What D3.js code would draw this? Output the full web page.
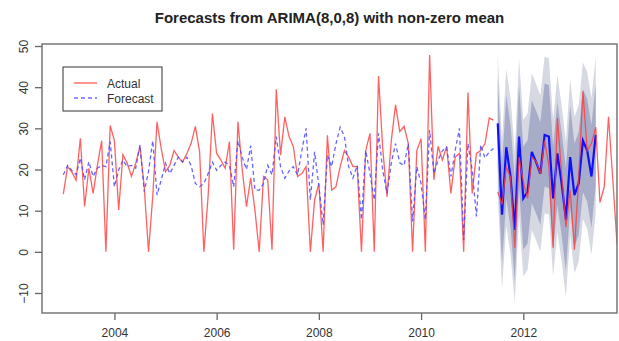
<!DOCTYPE html>
<html>
<head>
<meta charset="utf-8">
<title>Forecasts from ARIMA(8,0,8) with non-zero mean</title>
<script src="https://d3js.org/d3.v7.min.js"></script>
<style>
    body { margin: 0; background: #fff; }
    svg { display: block; font-family: "Liberation Sans", Arial, sans-serif; }
    .tick-label { font-size: 12px; fill: #333; }
    .title { font-size: 15px; font-weight: bold; fill: #222; }
</style>
</head>
<body>
<div id="chart"></div>
<script>
// monthly series, first value = Jan 2003
const startYear = 2003;

// observed values, Jan 2003 - Jun 2011
const actualTrain = [
    14, 20.7, 19.4, 17.4, 27.6, 11, 20.3, 14.2, 21, 27, 0, 30.7,
    27, 10.2, 23.6, 21.5, 18.3, 21.5, 25.6, 15.8, 0, 13.5, 31.6, 25,
    19.5, 21, 24.6, 23, 21.8, 23.9, 26.3, 30.5, 24.3, 0, 13.5, 33.6,
    23.9, 22.3, 20.3, 26.8, 0.5, 31.6, 20, 11, 18, 10, 0, 18.3,
    17.5, 0.5, 39.5, 23.5, 32.8, 28, 25.6, 18.3, 19, 20.7, 0, 12.6,
    16.6, 0, 28.3, 15, 15.8, 20.7, 24.6, 23, 20.7, 20.7, 0, 24.6,
    28.8, 0, 42.7, 25, 13.4, 27, 35.7, 29.2, 30.5, 26.3, 0, 24.6,
    27.5, 0, 47.8, 17.5, 25.6, 22.3, 25.6, 14.2, 23, 23.9, 0, 38.7,
    14.2, 23.9, 24.6, 26.3, 32.5, 32
];

// in-sample fitted values, same months
const fittedVals = [
    18.7, 21, 19.8, 18.7, 22.8, 17.5, 21.9, 18.3, 20.3, 21, 20.7, 26.8,
    15.8, 19.9, 22.3, 20.7, 21, 20.3, 26, 14.6, 19.5, 27, 13.8, 17.5,
    21.5, 19, 21, 23, 21.8, 23, 21, 16.6, 15.8, 16.6, 19, 21.8,
    19.8, 21, 21.8, 21, 15.8, 27, 23, 20, 25.8, 15, 15, 16.6,
    21, 18.7, 28, 20.7, 17.9, 19.6, 20.7, 18.7, 24.6, 30, 12.6, 24.3,
    16, 6.6, 23.5, 20.7, 26.2, 30.3, 28, 20.7, 17.9, 21, 7.8, 24.6,
    19, 12.6, 28.8, 19.8, 14.2, 21.5, 26.3, 21.6, 21, 26.3, 7.4, 20.7,
    16.6, 7.8, 29.6, 19, 22.3, 24.6, 25.4, 18.3, 24.6, 30, 2.9, 26.3,
    19.8, 8.6, 26, 22.8, 24.3, 25.1
];

// 24-month forecast, Jul 2011 - Jun 2013
const fcMean = [31.2, 9, 25.4, 18.3, 5.3, 28, 13, 14.6, 24.3, 21.8, 19, 28.4,
    28, 13, 23.9, 16.6, 7.8, 23, 13.8, 16.6, 27, 24.6, 18.3, 28.4];
const lo80 = [20.2, -3, 12.9, 5.8, -7.2, 15.5, 0.5, 2.1, 11.8, 9.3, 6.5, 15.9,
    15.5, 0.5, 11.4, 4.1, -4.7, 10.5, 1.3, 4.1, 14.5, 12.1, 5.8, 15.9];
const hi80 = [42.2, 21, 37.9, 30.8, 17.8, 40.5, 25.5, 27.1, 36.8, 34.3, 31.5, 40.9,
    40.5, 25.5, 36.4, 29.1, 20.3, 35.5, 26.3, 29.1, 39.5, 37.1, 30.8, 40.9];
const lo95 = [14.6, -9, 6.4, -0.7, -12.4, 9, -6, -4.4, 5.3, 2.8, 0, 9.4,
    9, -6, 4.9, -2.4, -11, 4, -5.2, -2.4, 8, 5.6, -0.7, 9.4];
const hi95 = [47.8, 27, 44.4, 37.3, 24.3, 47, 32, 33.6, 43.3, 40.8, 38, 47.4,
    47, 32, 42.9, 35.6, 26.8, 42, 32.8, 35.6, 46, 43.6, 37.3, 47.4];

// observed values after the training window, Jul 2011 onward
const actualTest = [14.6, 11.5, 20.7, 18, 1, 23, 17, 13, 23, 22, 19, 27,
    21, 1, 32.5, 19, 6, 15, 0.5, 18, 39, 24.6, 26.3, 30.3,
    12, 15.8, 32.8, 17.7, 2, 5];

const xTicks = [2004, 2006, 2008, 2010, 2012];
const yTicks = [-10, 0, 10, 20, 30, 40, 50];
const legendItems = [
    { label: "Actual", color: "#ff5a5a", dash: null },
    { label: "Forecast", color: "#6b6bff", dash: "4,3" }
];

const width = 619, height = 341;
const margin = { top: 44, right: 2, bottom: 28, left: 42 };
const fcStart = actualTrain.length;

const svg = d3.select("#chart").append("svg")
    .attr("width", width)
    .attr("height", height);

const x = d3.scaleLinear()
    .domain([2002.583, 2013.833])
    .range([margin.left, width - margin.right]);
const y = d3.scaleLinear()
    .domain([-14.86, 50.49])
    .range([height - margin.bottom, margin.top]);

const t = i => startYear + i / 12;

svg.append("defs").append("clipPath").attr("id", "plot-clip")
    .append("rect")
    .attr("x", margin.left).attr("y", margin.top)
    .attr("width", width - margin.left - margin.right)
    .attr("height", height - margin.top - margin.bottom);

const plot = svg.append("g").attr("clip-path", "url(#plot-clip)");

// prediction intervals
const band = (lo, hi) => d3.area()
    .x((d, i) => x(t(fcStart + i)))
    .y0((d, i) => y(lo[i]))
    .y1((d, i) => y(hi[i]));

plot.append("path").datum(fcMean)
    .attr("d", band(lo95, hi95))
    .attr("fill", "#d6d8e2");
plot.append("path").datum(fcMean)
    .attr("d", band(lo80, hi80))
    .attr("fill", "#a7adc9");

const line = offset => d3.line()
    .x((d, i) => x(t(offset + i)))
    .y(d => y(d));

// forecast mean
plot.append("path").datum(fcMean)
    .attr("d", line(fcStart))
    .attr("fill", "none")
    .attr("stroke", "#1010ff")
    .attr("stroke-width", 2.2);

// actuals
[[actualTrain, 0], [actualTest, fcStart]].forEach(([vals, off]) => {
    plot.append("path").datum(vals)
        .attr("d", line(off))
        .attr("fill", "none")
        .attr("stroke", "#ff3a3a")
        .attr("stroke-opacity", 0.8)
        .attr("stroke-width", 1.3);
});

// fitted
plot.append("path").datum(fittedVals)
    .attr("d", line(0))
    .attr("fill", "none")
    .attr("stroke", "#4a4aff")
    .attr("stroke-opacity", 0.85)
    .attr("stroke-width", 1.3)
    .attr("stroke-dasharray", "4,3");

// axes
const xAxis = svg.append("g")
    .attr("transform", `translate(0,${height - margin.bottom})`)
    .call(d3.axisBottom(x).tickValues(xTicks).tickFormat(d3.format("d")).tickSize(7).tickSizeOuter(0));
xAxis.select(".domain").remove();
xAxis.selectAll("line").attr("stroke", "#666").attr("stroke-width", 1.3);
xAxis.selectAll("text").attr("class", "tick-label").attr("dy", null).attr("y", 24);

const yAxis = svg.append("g")
    .attr("transform", `translate(${margin.left},0)`)
    .call(d3.axisLeft(y).tickValues(yTicks).tickSize(7).tickSizeOuter(0));
yAxis.select(".domain").remove();
yAxis.selectAll("line").attr("stroke", "#666").attr("stroke-width", 1.3);
yAxis.selectAll("text")
    .attr("class", "tick-label")
    .attr("x", null).attr("dy", null)
    .attr("text-anchor", "middle")
    .attr("transform", "translate(-18,0) rotate(-90)")
    .attr("y", 4);

// plot box
svg.append("rect")
    .attr("x", margin.left).attr("y", margin.top)
    .attr("width", width - margin.left - margin.right)
    .attr("height", height - margin.top - margin.bottom)
    .attr("fill", "none")
    .attr("stroke", "#777")
    .attr("stroke-width", 1.5);

// title
svg.append("text")
    .attr("class", "title")
    .attr("x", (margin.left + width - margin.right) / 2)
    .attr("y", 23)
    .attr("text-anchor", "middle")
    .text("Forecasts from ARIMA(8,0,8) with non-zero mean");

// legend
const legend = svg.append("g").attr("transform", "translate(63,67)");
legend.append("rect")
    .attr("width", 99).attr("height", 44)
    .attr("fill", "#fff")
    .attr("stroke", "#333")
    .attr("stroke-width", 1);
legendItems.forEach((item, i) => {
    const row = legend.append("g").attr("transform", `translate(0,${16 + i * 15})`);
    row.append("line")
        .attr("x1", 11).attr("x2", 34)
        .attr("stroke", item.color)
        .attr("stroke-width", 1.3)
        .attr("stroke-dasharray", item.dash);
    row.append("text")
        .attr("x", 44).attr("y", 4.5)
        .attr("font-size", 12)
        .attr("fill", "#333")
        .text(item.label);
});
</script>
</body>
</html>
